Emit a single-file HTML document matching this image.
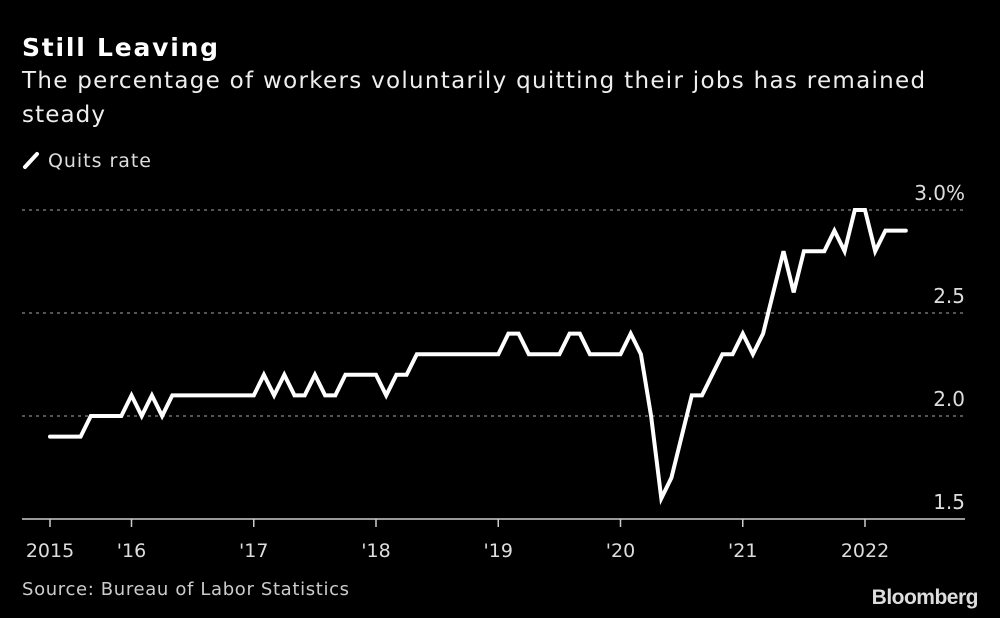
<!DOCTYPE html>
<html><head><meta charset="utf-8">
<style>
html,body{margin:0;padding:0;background:#000;}
body{width:1000px;height:618px;overflow:hidden;position:relative;font-family:"DejaVu Sans","Liberation Sans",sans-serif;color:#e6e6e6;}
.t{position:absolute;white-space:nowrap;}
</style></head>
<body>
<div class="t fit" data-w="196" style="left:22px;top:33px;font-size:25px;font-weight:bold;color:#fff;">Still Leaving</div>
<div class="t fit" data-w="903" style="left:22px;top:68px;font-size:23px;color:#eee;">The percentage of workers voluntarily quitting their jobs has remained</div>
<div class="t fit" data-w="83" style="left:22px;top:102px;font-size:23px;color:#eee;">steady</div>
<div class="t" style="left:22px;top:150px;font-size:19px;color:#ddd;"><svg width="18" height="20" style="vertical-align:-3px;margin-right:8px"><line x1="3" y1="17" x2="15" y2="4" stroke="#fff" stroke-width="4" stroke-linecap="round"/></svg><span class="fit" data-w="103">Quits rate</span></div>
<svg id="chart" width="1000" height="618" style="position:absolute;left:0;top:0"></svg>
<div class="t fit" data-w="327" style="left:22px;top:579px;font-size:18px;color:#ccc;">Source: Bureau of Labor Statistics</div>
<div class="t" style="right:22px;top:586px;font-size:21px;font-weight:bold;color:#ddd;letter-spacing:-0.5px;font-family:'Liberation Sans',sans-serif;">Bloomberg</div>
<script>
const quits = [1.9,1.9,1.9,1.9,2.0,2.0,2.0,2.0,
 2.1,2.0,2.1,2.0,2.1,2.1,2.1,2.1,2.1,2.1,2.1,2.1,
 2.1,2.2,2.1,2.2,2.1,2.1,2.2,2.1,2.1,2.2,2.2,2.2,
 2.2,2.1,2.2,2.2,2.3,2.3,2.3,2.3,2.3,2.3,2.3,2.3,
 2.3,2.4,2.4,2.3,2.3,2.3,2.3,2.4,2.4,2.3,2.3,2.3,
 2.3,2.4,2.3,2.0,1.6,1.7,1.9,2.1,2.1,2.2,2.3,2.3,
 2.4,2.3,2.4,2.6,2.8,2.6,2.8,2.8,2.8,2.9,2.8,3.0,
 3.0,2.8,2.9,2.9,2.9];
const yTicks = [1.5,2.0,2.5,3.0];
const yTickLabels = ["1.5","2.0","2.5","3.0%"];
const xTickMonths = [0,8,20,32,44,56,68,80];
const xTickLabels = ["2015","'16","'17","'18","'19","'20","'21","2022"];

document.querySelectorAll('.fit').forEach(el=>{
  if(el.tagName==='SPAN') el.style.display='inline-block';
  const target=+el.dataset.w, w=el.getBoundingClientRect().width, n=el.textContent.length;
  if(n>1) el.style.letterSpacing=((target-w)/(n-1)).toFixed(2)+'px';
});

const svg = document.getElementById('chart');
const NS = 'http://www.w3.org/2000/svg';
const x = i => 50 + i * ((865 - 50) / 80);
const y = v => 519 - (v - 1.5) * (309 / 1.5);
function mk(tag, attrs){const e=document.createElementNS(NS,tag);for(const k in attrs)e.setAttribute(k,attrs[k]);svg.appendChild(e);return e;}
const FF='DejaVu Sans, Liberation Sans, sans-serif';
yTicks.forEach((v,i)=>{
  if(v>1.5){
    const g=mk('line',{x1:22,x2:965,y1:y(v),y2:y(v),stroke:'#888','stroke-width':1.2,'stroke-dasharray':'3,4'});
    
    
  }
  const t=mk('text',{x:965,y:y(v)-10,'text-anchor':'end','font-size':20,fill:'#ddd','font-family':FF});
  t.textContent=yTickLabels[i];
  
  
});
const ax=mk('line',{x1:22,x2:965,y1:519,y2:519,stroke:'#ccc','stroke-width':1.5});


xTickMonths.forEach((m,i)=>{
  const tk=mk('line',{x1:x(m),x2:x(m),y1:519,y2:527,stroke:'#ccc','stroke-width':1.5});
  
  
  const t=mk('text',{x:x(m),y:557,'text-anchor':'middle','font-size':19,fill:'#ddd','font-family':FF});
  t.textContent=xTickLabels[i];
  
  
});
const d=quits.map((v,i)=>(i?'L':'M')+x(i).toFixed(1)+','+y(v).toFixed(1)).join(' ');
const p=mk('path',{d:d,fill:'none',stroke:'#fff','stroke-width':4,'stroke-linejoin':'miter','stroke-linecap':'round'});


</script>
</body></html>
